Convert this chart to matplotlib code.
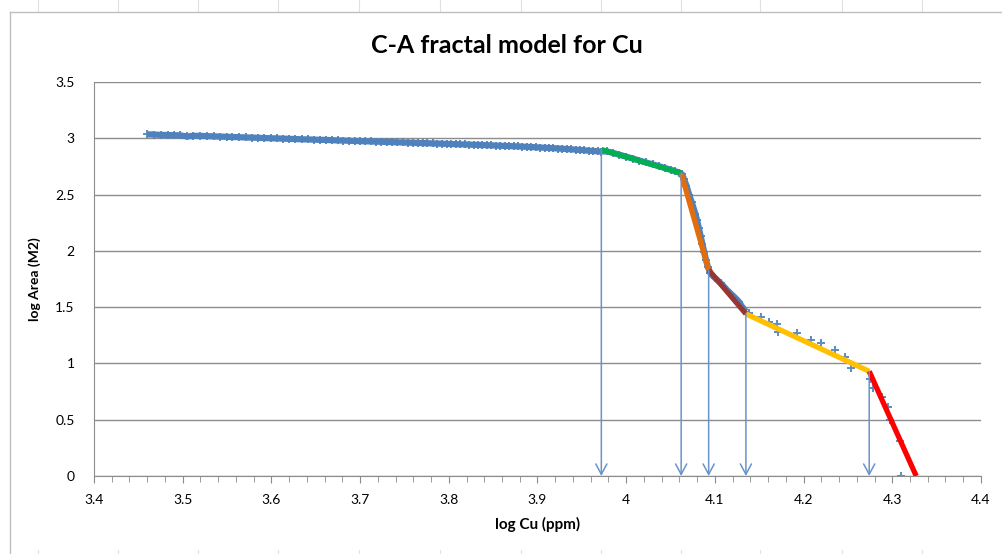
import numpy as np
import matplotlib
matplotlib.use("Agg")
import matplotlib.pyplot as plt
from matplotlib.ticker import MultipleLocator, FuncFormatter
from matplotlib.lines import Line2D

plt.rcParams['font.family'] = ['Lato', 'DejaVu Sans']

# measured data (log Cu, log Area), dense part then sparse tail
cu = [3.460, 3.468, 3.475, 3.483, 3.490, 3.497, 3.505, 3.512, 3.520, 3.527,
      3.535, 3.542, 3.550, 3.556, 3.563, 3.571, 3.578, 3.585, 3.592, 3.600,
      3.606, 3.613, 3.620, 3.627, 3.634, 3.641, 3.648, 3.655, 3.662, 3.668,
      3.675, 3.681, 3.688, 3.694, 3.700, 3.706, 3.712, 3.718, 3.724, 3.730,
      3.736, 3.742, 3.748, 3.754, 3.760, 3.765, 3.771, 3.776, 3.782, 3.787,
      3.792, 3.798, 3.803, 3.808, 3.813, 3.818, 3.823, 3.828, 3.833, 3.838,
      3.843, 3.848, 3.853, 3.858, 3.863, 3.868, 3.873, 3.878, 3.883, 3.888,
      3.893, 3.898, 3.903, 3.908, 3.913, 3.918, 3.923, 3.928, 3.933, 3.938,
      3.943, 3.948, 3.953, 3.958, 3.963, 3.968, 3.972,
      3.978, 3.985, 3.992, 4.000, 4.008, 4.015, 4.022, 4.030, 4.037, 4.044,
      4.050, 4.055, 4.060, 4.063,
      4.065, 4.068, 4.071, 4.074, 4.078, 4.080, 4.082, 4.084, 4.086, 4.088,
      4.090, 4.092, 4.095,
      4.100, 4.107, 4.114, 4.122, 4.127, 4.131, 4.135]
area = [3.035, 3.033, 3.030, 3.029, 3.027, 3.026, 3.016, 3.022, 3.021, 3.019,
        3.017, 3.015, 3.013, 3.011, 3.010, 3.007, 3.006, 3.004, 3.002, 3.000,
        2.999, 2.997, 2.995, 2.993, 2.991, 2.990, 2.988, 2.986, 2.985, 2.983,
        2.981, 2.980, 2.978, 2.976, 2.975, 2.973, 2.972, 2.970, 2.969, 2.967,
        2.966, 2.964, 2.963, 2.961, 2.960, 2.958, 2.957, 2.956, 2.954, 2.953,
        2.952, 2.950, 2.949, 2.948, 2.946, 2.945, 2.944, 2.942, 2.941, 2.940,
        2.938, 2.937, 2.935, 2.934, 2.932, 2.931, 2.929, 2.928, 2.926, 2.924,
        2.922, 2.920, 2.918, 2.916, 2.914, 2.912, 2.909, 2.907, 2.904, 2.902,
        2.899, 2.896, 2.893, 2.890, 2.887, 2.884, 2.882,
        2.884, 2.870, 2.855, 2.837, 2.819, 2.802, 2.786, 2.768, 2.752, 2.735,
        2.721, 2.708, 2.695, 2.680,
        2.64, 2.58, 2.50, 2.43, 2.33, 2.27, 2.20, 2.13, 2.06, 1.99,
        1.92, 1.86, 1.80,
        1.76, 1.71, 1.65, 1.59, 1.55, 1.50, 1.46]
cu_tail = [4.1385, 4.1517, 4.161, 4.1703, 4.171, 4.193, 4.208, 4.220, 4.236,
           4.247, 4.254, 4.275, 4.278, 4.288, 4.295, 4.297, 4.309, 4.310]
area_tail = [1.445, 1.415, 1.370, 1.350, 1.280, 1.267, 1.208, 1.184, 1.119,
             1.054, 0.956, 0.865, 0.785, 0.704, 0.612, 0.497, 0.315, 0.0]

# break points of the fitted segments
brk_x = [3.972, 4.062, 4.093, 4.135, 4.274, 4.327]
brk_y = [2.90, 2.69, 1.83, 1.44, 0.93, 0.0]
seg_colors = ['#00B050', '#E46C0A', '#953735', '#FFC000', '#FF0000']

blue = '#4F81BD'

fig = plt.figure(figsize=(10.02, 5.54), dpi=100)
ax = fig.add_axes([0.0938, 0.1408, 0.8852, 0.7112])

# spreadsheet look behind the chart
for xp in [38, 118, 198, 278, 359, 440, 521, 601, 681, 760, 842, 922]:
    fig.add_artist(Line2D([xp / 1002, xp / 1002], [1, 1 - 11 / 554],
                          color='#E0E0E0', lw=0.8))
    fig.add_artist(Line2D([xp / 1002, xp / 1002], [0, 4 / 554],
                          color='#E0E0E0', lw=0.8))
fig.add_artist(Line2D([10 / 1002, 1], [1 - 12 / 554, 1 - 12 / 554], color='#BFBFBF', lw=1))
fig.add_artist(Line2D([10 / 1002, 10 / 1002], [0, 1 - 12 / 554], color='#BFBFBF', lw=1))

ax.plot(cu, area, color=blue, lw=4.5, zorder=2.1, solid_capstyle='butt')
ax.plot(cu + cu_tail, area + area_tail, 'P', color=blue, ms=5.5, mew=0,
        alpha=0.9, zorder=2)

for i, c in enumerate(seg_colors):
    ax.plot(brk_x[i:i + 2], brk_y[i:i + 2], color=c, lw=3.8, zorder=3,
            solid_capstyle='butt')

# arrows dropping from each break to the x axis
for x, y in zip(brk_x[:-1], brk_y[:-1]):
    ax.annotate('', xy=(x, 0.0), xytext=(x, y),
                arrowprops=dict(arrowstyle='->,head_length=0.75,head_width=0.4',
                                color='#6A93C9', lw=1.1, shrinkA=0, shrinkB=0),
                zorder=4)

ax.set_xlim(3.4, 4.4)
ax.set_ylim(0, 3.5)
ax.xaxis.set_major_locator(MultipleLocator(0.1))
ax.xaxis.set_minor_locator(MultipleLocator(0.02))
ax.yaxis.set_major_locator(MultipleLocator(0.5))
fmt = FuncFormatter(lambda v, p: '%g' % round(v, 2))
ax.xaxis.set_major_formatter(fmt)
ax.yaxis.set_major_formatter(fmt)

ax.grid(axis='y', color='#8C8C8C', lw=1)
ax.set_axisbelow(True)
for s in ['top', 'right']:
    ax.spines[s].set_visible(False)
ax.spines['left'].set_color('#8C8C8C')
ax.spines['bottom'].set_color('#8C8C8C')
ax.tick_params(axis='x', which='both', direction='out', color='#8C8C8C',
               labelsize=10, pad=8)
ax.tick_params(axis='x', which='major', length=5)
ax.tick_params(axis='x', which='minor', length=4)
ax.tick_params(axis='y', length=0, labelsize=10, pad=14)

ax.set_xlabel('log Cu (ppm)', fontsize=11, fontweight='bold', labelpad=8)
ax.set_ylabel('log Area (M2)', fontsize=10, fontweight='bold', labelpad=10)
fig.text(0.506, 0.918, 'C-A fractal model for Cu', ha='center', va='center',
         fontsize=18, fontweight='bold')

fig.savefig('out.png', dpi=100)
